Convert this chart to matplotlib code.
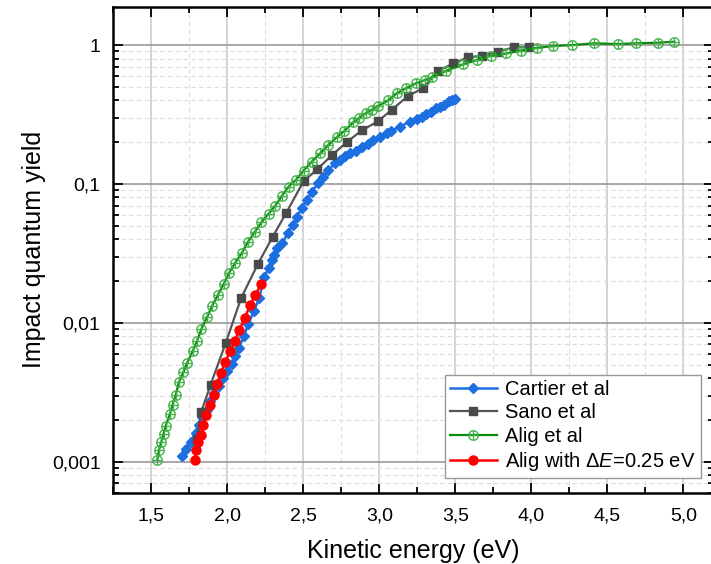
import numpy as np
import matplotlib
matplotlib.use("Agg")
import matplotlib.pyplot as plt
from matplotlib.ticker import FixedLocator, LogLocator, FuncFormatter, MultipleLocator, NullFormatter

plt.rcParams["font.family"] = ["Liberation Sans", "DejaVu Sans"]
plt.rcParams["mathtext.fontset"] = "custom"
plt.rcParams["mathtext.rm"] = "Liberation Sans"
plt.rcParams["mathtext.it"] = "Liberation Sans:italic"

# Cartier et al
cartier_x = [1.705, 1.731, 1.760, 1.793, 1.815, 1.836, 1.869, 1.890, 1.913, 1.946,
             1.970, 2.000, 2.033, 2.055, 2.077, 2.110, 2.140, 2.175, 2.210, 2.245,
             2.273, 2.295, 2.310, 2.330, 2.364, 2.397, 2.430, 2.460, 2.490, 2.524,
             2.557, 2.600, 2.630, 2.666, 2.710, 2.743, 2.776, 2.808, 2.845, 2.885,
             2.924, 2.960, 3.005, 3.050, 3.080, 3.136, 3.200, 3.250, 3.280, 3.310,
             3.340, 3.370, 3.400, 3.425, 3.460, 3.480, 3.500]
cartier_y = [0.00110, 0.00123, 0.00140, 0.00162, 0.00185, 0.00210, 0.00236, 0.00275, 0.00314, 0.00350,
             0.00400, 0.00450, 0.00510, 0.00580, 0.00660, 0.00800, 0.00990, 0.0121, 0.0150, 0.0215,
             0.0248, 0.0283, 0.0310, 0.0345, 0.0374, 0.0443, 0.0508, 0.0583, 0.0667, 0.0767,
             0.0880, 0.1025, 0.112, 0.126, 0.141, 0.150, 0.159, 0.166, 0.174, 0.184,
             0.194, 0.207, 0.219, 0.232, 0.242, 0.258, 0.281, 0.292, 0.305, 0.317,
             0.330, 0.350, 0.360, 0.370, 0.395, 0.400, 0.409]

# Sano et al
sano_x = [1.800, 1.830, 1.891, 1.990, 2.092, 2.201, 2.300, 2.389, 2.503, 2.594,
          2.688, 2.791, 2.885, 2.990, 3.081, 3.191, 3.287, 3.387, 3.486, 3.584,
          3.678, 3.780, 3.883, 3.984]
sano_y = [0.00145, 0.0023, 0.00358, 0.00714, 0.0151, 0.0264, 0.0418, 0.0621, 0.105, 0.128,
          0.161, 0.202, 0.243, 0.282, 0.341, 0.432, 0.488, 0.650, 0.738, 0.816,
          0.838, 0.895, 0.963, 0.963]

# Alig et al
alig_x = [1.541, 1.552, 1.567, 1.582, 1.596, 1.623, 1.641, 1.662, 1.683, 1.712,
          1.738, 1.775, 1.803, 1.830, 1.869, 1.902, 1.939, 1.978, 2.011, 2.055,
          2.098, 2.136, 2.181, 2.225, 2.273, 2.317, 2.360, 2.404, 2.452, 2.503,
          2.557, 2.612, 2.666, 2.721, 2.771, 2.830, 2.870, 2.910, 2.950, 2.990,
          3.060, 3.114, 3.175, 3.240, 3.300, 3.350, 3.440, 3.550, 3.640, 3.736,
          3.835, 3.930, 4.040, 4.145, 4.270, 4.410, 4.570, 4.690, 4.830, 4.940]
alig_y = [0.00103, 0.00122, 0.00139, 0.00159, 0.00182, 0.00220, 0.00257, 0.00303, 0.00374, 0.00442,
          0.00518, 0.00632, 0.00746, 0.00901, 0.0111, 0.0133, 0.0159, 0.0191, 0.0228, 0.0272,
          0.0321, 0.0381, 0.0450, 0.0530, 0.0611, 0.0698, 0.0820, 0.0957, 0.107, 0.125,
          0.145, 0.166, 0.191, 0.217, 0.241, 0.278, 0.300, 0.323, 0.342, 0.364,
          0.400, 0.449, 0.488, 0.530, 0.560, 0.590, 0.653, 0.726, 0.780, 0.838,
          0.870, 0.910, 0.956, 0.984, 1.000, 1.030, 1.017, 1.030, 1.040, 1.057]

# Alig shifted by dE = 0.25 eV
alig_de_x = [1.788, 1.797, 1.810, 1.830, 1.843, 1.862, 1.887, 1.913, 1.935, 1.961,
             1.985, 2.022, 2.050, 2.081, 2.116, 2.153, 2.186, 2.225]
alig_de_y = [0.00104, 0.00121, 0.00139, 0.00157, 0.00183, 0.00216, 0.00258, 0.00304, 0.00365, 0.00438,
             0.0052, 0.0063, 0.0074, 0.0089, 0.0109, 0.0135, 0.0160, 0.0191]

fig = plt.figure(figsize=(7.11, 5.64), dpi=100)
ax = fig.add_axes([0.159, 0.1264, 0.845, 0.8612])

ax.plot(cartier_x, cartier_y, color="#1c6fe0", lw=1.8, marker="D", ms=5.5,
        mfc="#1c6fe0", mec="#1c6fe0", label="Cartier et al", zorder=3)
ax.plot(sano_x, sano_y, color="#555555", lw=1.6, marker="s", ms=5.5,
        mfc="#4a4a4a", mec="#4a4a4a", label="Sano et al", zorder=4)
ax.plot(alig_x, alig_y, color="#0a8a0a", lw=1.6, marker="$\u2295$", ms=7.5,
        mfc="#3cb043", mec="#3cb043", mew=0.3, label="Alig et al", zorder=5)
ax.plot(alig_de_x, alig_de_y, color="#ff0000", lw=1.8, marker="o", ms=6.5,
        mfc="#ff0000", mec="#ff0000", label="Alig with Δ$\\mathit{E}$=0.25 eV", zorder=6)

ax.set_yscale("log")
ax.set_xlim(1.25, 5.2)
ax.set_ylim(6.0e-4, 1.88)

ax.xaxis.set_major_locator(MultipleLocator(0.5))
ax.xaxis.set_minor_locator(MultipleLocator(0.25))
ax.xaxis.set_major_formatter(FuncFormatter(lambda v, p: f"{v:.1f}".replace(".", ",")))

ax.yaxis.set_major_locator(FixedLocator([0.001, 0.01, 0.1, 1]))
ax.yaxis.set_minor_locator(LogLocator(base=10, subs=np.arange(2, 10)))
ax.yaxis.set_minor_formatter(NullFormatter())
ylabels = {0.001: "0,001", 0.01: "0,01", 0.1: "0,1", 1: "1"}
ax.yaxis.set_major_formatter(FuncFormatter(lambda v, p: ylabels.get(round(v, 3), "")))

ax.tick_params(which="both", direction="in", top=True, right=True, width=1.3,
               labelsize=14, colors="black")
ax.tick_params(which="major", length=7)
ax.tick_params(which="minor", length=4)
ax.tick_params(axis="x", which="major", pad=11)
ax.tick_params(axis="y", which="major", pad=9)

ax.grid(True, which="major", axis="x", color="#cccccc", lw=1.2, ls="-")
ax.grid(True, which="major", axis="y", color="#9a9a9a", lw=1.2, ls="-")
ax.grid(True, which="minor", color="#dddddd", lw=0.8, ls=(0, (4, 3)))
ax.set_axisbelow(True)

for s in ax.spines.values():
    s.set_linewidth(1.8)

ax.set_xlabel("Kinetic energy (eV)", fontsize=18, labelpad=10)
ax.set_ylabel("Impact quantum yield", fontsize=18, labelpad=4)

leg = ax.legend(loc="lower right", bbox_to_anchor=(0.978, 0.03), borderaxespad=0,
                fontsize=14.5, fancybox=False, edgecolor="#999999", framealpha=1,
                handlelength=2.35, labelspacing=0.22, handletextpad=0.4,
                borderpad=0.25)
leg.get_frame().set_linewidth(1.0)

fig.savefig("out.png", dpi=100)
